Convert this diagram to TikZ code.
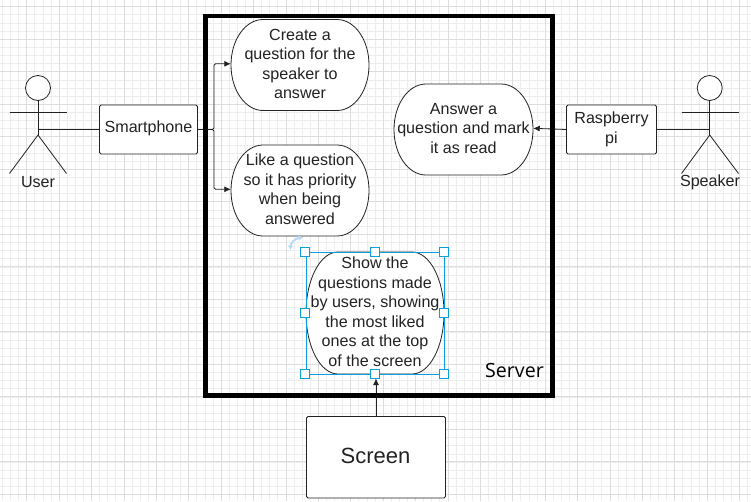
\documentclass[tikz,border=0pt]{standalone}
\usepackage{fontspec}
\setmainfont{Liberation Sans}
\newfontfamily\serverfont{Open Sans}
\usetikzlibrary{arrows.meta,calc}
\definecolor{gridminor}{HTML}{EDEDED}
\definecolor{gridmajor}{HTML}{DDDDDD}
\definecolor{selblue}{HTML}{0A9FDC}
\definecolor{rothandle}{HTML}{B9DAF5}
\definecolor{ink}{HTML}{222222}
\tikzset{
  x=1pt,y=-1pt,
  every node/.style={font=\fontsize{16.1}{19.5}\selectfont,text=ink,align=center,inner sep=0pt},
  boxnode/.style={draw=ink,fill=white,line width=0.8pt,rounded corners=1.5pt},
  pillshape/.style={draw=ink,fill=white,line width=0.8pt},
  wire/.style={draw=ink,line width=0.8pt},
  arrowwire/.style={wire,-{Latex[length=6.5pt,width=6pt]}},
  figure/.style={draw=ink,line width=0.8pt},
  handle/.style={draw=selblue,fill=white,line width=1pt,minimum size=9pt,shape=rectangle},
}
% #1 name, #2 cx, #3 cy, #4 width, #5 height, #6 text
\newcommand{\pillnode}[6]{%
  \path[pillshape] ({#2-#4/2+32},{#3-#5/2})
    -- ({#2+#4/2-32},{#3-#5/2})
    arc[start angle=90,end angle=-90,x radius=32pt,y radius={(#5/2)*1pt}]
    -- ({#2-#4/2+32},{#3+#5/2})
    arc[start angle=270,end angle=90,x radius=32pt,y radius={(#5/2)*1pt}] -- cycle;
  \node[minimum width=#4,minimum height=#5,yshift=1.2pt] (#1) at (#2,#3) {#6};
}
\begin{document}
\begin{tikzpicture}
\useasboundingbox (0,0) rectangle (751,501);
\fill[white] (0,0) rectangle (751,501);
% grid
\foreach \k in {0,...,92} {
  \draw[gridminor,line width=0.9pt] ({2.5+8.1*\k},0) -- ({2.5+8.1*\k},501);
}
\foreach \k in {0,...,61} {
  \draw[gridminor,line width=0.9pt] (0,{6.8+8.13*\k}) -- (751,{6.8+8.13*\k});
}
\foreach \k in {0,...,22} {
  \draw[gridmajor,line width=0.9pt] ({26.8+32.4*\k},0) -- ({26.8+32.4*\k},501);
}
\foreach \k in {-1,...,14} {
  \draw[gridmajor,line width=0.9pt] (0,{39.2+32.5*\k}) -- (751,{39.2+32.5*\k});
}
% use case shapes
\pillnode{create}{300}{65}{138}{91}{Create a\\question for the\\speaker to\\answer}
\pillnode{like}{300}{190.5}{138}{91}{Like a question\\so it has priority\\when being\\answered}
\pillnode{answer}{463.5}{129.5}{139}{91}{Answer a\\question and mark\\it as read}
\pillnode{show}{375}{313}{138}{122}{Show the\\questions made\\by users, showing\\the most liked\\ones at the top\\of the screen}
% boxes
\node[boxnode,minimum width=98,minimum height=49] (phone) at (148.5,129.5) {};
\node (phonelabel) at (148.5,128.5) {Smartphone};
\node[boxnode,minimum width=90,minimum height=49] (pi) at (611.5,129.5) {Raspberry\\pi};
\node[boxnode,minimum width=139,minimum height=81.5] (screen) at (376,457.2) {};
\node[font=\fontsize{22}{26}\selectfont] (screenlabel) at (375.5,456) {Screen};
% user actor
\node[draw=ink,line width=0.8pt,circle,minimum size=25,fill=white] (userhead) at (38,88) {};
\coordinate (userhip) at (38,135);
\coordinate (userwaist) at (38,129.5);
\draw[figure] (userhead.south) -- (userhip);
\draw[figure] (9.5,112.5) -- (66.5,112.5);
\draw[figure] (9.5,173.5) -- (userhip) -- (66.5,173.5);
\node (userlabel) at (38,182) {User};
% speaker actor
\node[draw=ink,line width=0.8pt,circle,minimum size=25,fill=white] (spkhead) at (709.7,88) {};
\coordinate (spkhip) at (709.7,135);
\coordinate (spkwaist) at (709.7,129.5);
\draw[figure] (spkhead.south) -- (spkhip);
\draw[figure] (681.5,112.5) -- (738.5,112.5);
\draw[figure] (681.5,173.5) -- (spkhip) -- (738.5,173.5);
\node (spklabel) at (710,182) {Speaker};
% connectors
\draw[wire] (userwaist) -- (phone.west);
\draw[wire] (pi.east) -- (spkwaist);
\draw[arrowwire,rounded corners=1.5pt] (phone.east) -- (214,129.5) |- (create.west);
\draw[arrowwire,rounded corners=1.5pt] (phone.east) -- (214,129.5) |- (like.west);
\draw[arrowwire] (pi.west) -- (answer.east);
\draw[arrowwire,shorten >=5.5pt] (screen.north) -- (screen.north |- show.south);
% server
\node[draw=black,line width=4.6pt,minimum width=347,minimum height=379.5] (server) at (379,205.7) {};
\node[font=\serverfont\fontsize{19.6}{22}\selectfont,text=black] (serverlabel) at (514.5,370.5) {Server};
% selection
\draw[selblue,line width=1pt] (306,252.5) rectangle (444.5,374);
\foreach \px/\py in {305/252,375/252,444/252,305/312.5,444/312.5,305/373.5,375/373.5,444/373.5} {
  \node[handle] at (\px,\py) {};
}
% rotate handle
\draw[rothandle,line width=2pt,{Latex[length=4.5pt,width=6pt]}-{Latex[length=4.5pt,width=6pt]}] (290.5,250) .. controls (290.5,243) and (295,238.5) .. (303,237.5);
\end{tikzpicture}
\end{document}
